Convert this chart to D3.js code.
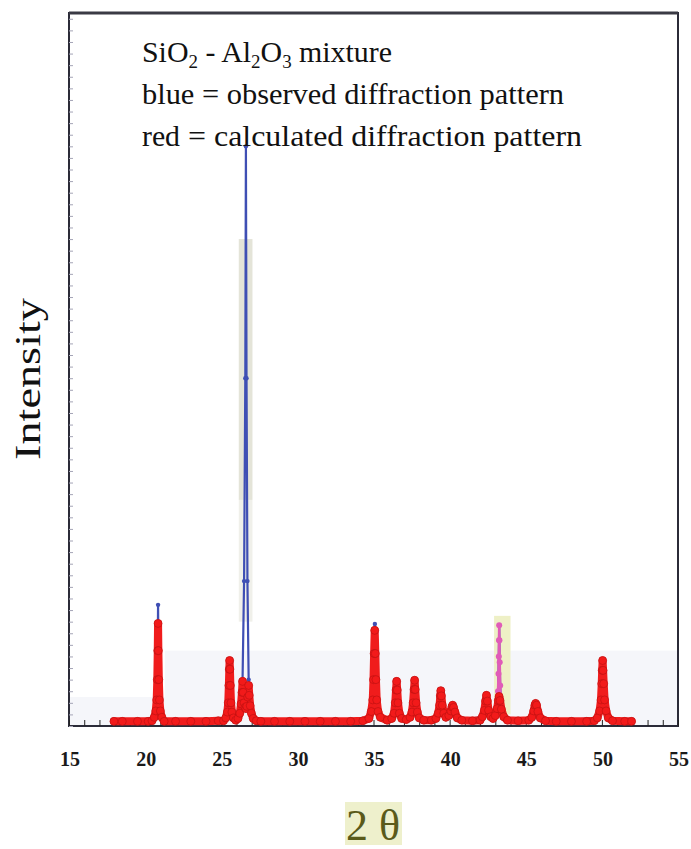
<!DOCTYPE html>
<html>
<head>
<meta charset="utf-8">
<script src="https://cdn.jsdelivr.net/npm/d3@7"></script>
<style>
  body { margin: 0; background: white; }
</style>
</head>
<body>
<div id="vis1"></div>
<script>
// tick labels of the 2-theta axis
let xTicks = [15, 20, 25, 30, 35, 40, 45, 50, 55];

// calculated pattern (red), [2theta, intensity]
let calcPattern = [
  [17.95, 0.8], [18.5, 0.8], [19.5, 0.8], [20.2, 0.8],
  [20.45, 0.9], [20.6, 1.5], [20.7, 2.6], [20.76, 4.5], [20.8, 8], [20.83, 13], [20.85, 17.7],
  [20.87, 13], [20.9, 8], [20.94, 4.5], [21.0, 2.6], [21.1, 1.5], [21.25, 0.8],
  [22, 0.8], [23, 0.8], [24, 0.8], [24.8, 0.9],
  [25.15, 0.9], [25.3, 1.4], [25.4, 2.4], [25.46, 4], [25.5, 7], [25.53, 9.8], [25.55, 11.3],
  [25.57, 9.8], [25.6, 7], [25.64, 4], [25.7, 2.4], [25.8, 1.4], [25.95, 1.0], [26.1, 1.3],
  [26.22, 2.2], [26.3, 3.8], [26.36, 5.8], [26.4, 7.7], [26.44, 5.8], [26.5, 4], [26.56, 3.2],
  [26.62, 3], [26.68, 3.4], [26.74, 5], [26.8, 7.0], [26.84, 5.3], [26.9, 3.5], [26.98, 2.2],
  [27.1, 1.3], [27.3, 0.9], [27.6, 0.8],
  [28.5, 0.8], [29.5, 0.8], [30.5, 0.8], [31.5, 0.8], [32.5, 0.8], [33.5, 0.8], [34.3, 0.9],
  [34.7, 1.3], [34.85, 2.5], [34.95, 4.5], [35.0, 8], [35.04, 12.5], [35.08, 16.5],
  [35.12, 12.5], [35.16, 8], [35.21, 4.5], [35.3, 2.5], [35.45, 1.5],
  [35.9, 1.0], [36.2, 1.3], [36.35, 2.2], [36.43, 4], [36.48, 6.2], [36.52, 7.7],
  [36.56, 6.2], [36.61, 4], [36.7, 2.2], [36.85, 1.3], [37.15, 1.1],
  [37.4, 1.5], [37.52, 2.4], [37.6, 4], [37.66, 6.3], [37.7, 7.9], [37.74, 6.3], [37.8, 4],
  [37.88, 2.4], [38.0, 1.4], [38.3, 1.0], [38.8, 1.0],
  [39.1, 1.3], [39.25, 2.2], [39.34, 3.6], [39.39, 5.2], [39.42, 6.1], [39.46, 5.2],
  [39.52, 3.6], [39.62, 2.2], [39.75, 1.5],
  [39.95, 1.8], [40.08, 2.6], [40.15, 3.3], [40.2, 3.6], [40.26, 3.2], [40.35, 2.4],
  [40.5, 1.4], [40.8, 1.0], [41.5, 0.9], [42.0, 1.0],
  [42.15, 1.6], [42.28, 2.7], [42.36, 4.3], [42.42, 5.3], [42.48, 4.3], [42.56, 2.7],
  [42.7, 1.6], [42.85, 1.3],
  [43.0, 1.8], [43.12, 3.0], [43.2, 4.4], [43.25, 5.1], [43.31, 4.4], [43.4, 2.9],
  [43.55, 1.6], [43.8, 1.0], [44.5, 0.9], [45.2, 1.0],
  [45.4, 1.5], [45.52, 2.6], [45.6, 3.6], [45.65, 3.9], [45.71, 3.6], [45.8, 2.5], [45.95, 1.4],
  [46.3, 0.9], [47, 0.8], [48, 0.8], [49, 0.8], [49.5, 0.9],
  [49.7, 1.4], [49.85, 2.6], [49.94, 4.5], [49.99, 7.3], [50.02, 9.6], [50.05, 11.3],
  [50.08, 9.6], [50.12, 7.3], [50.18, 4.5], [50.28, 2.6], [50.42, 1.4], [50.7, 0.9],
  [51.5, 0.8], [51.95, 0.8]
];

// observed pattern (blue), [2theta, intensity]
let obsPattern = [
  [18.0, 0.8], [20.4, 0.8], [20.6, 1.5], [20.72, 3], [20.78, 6], [20.82, 11], [20.85, 20.9],
  [20.88, 11], [20.92, 6], [20.98, 3], [21.1, 1.5], [21.3, 0.8],
  [25.15, 0.8], [25.35, 1.6], [25.47, 4], [25.52, 8], [25.55, 11], [25.58, 8], [25.63, 4],
  [25.75, 1.6], [26.0, 1.2],
  [26.3, 2.5], [26.4, 8], [26.5, 25], [26.58, 60], [26.62, 100], [26.66, 60], [26.72, 25],
  [26.8, 8], [26.92, 2.5], [27.3, 0.9],
  [34.4, 0.9], [34.8, 1.6], [34.95, 4], [35.02, 9], [35.06, 14], [35.09, 17.6], [35.12, 14],
  [35.16, 9], [35.22, 4], [35.4, 1.6],
  [36.2, 1.2], [36.45, 4], [36.52, 7.5], [36.6, 4], [36.85, 1.2],
  [37.45, 1.5], [37.64, 5], [37.7, 7.6], [37.77, 5], [38.0, 1.4],
  [39.2, 1.3], [39.38, 4.5], [39.42, 6], [39.48, 4.5], [39.75, 1.4],
  [40.05, 2.5], [40.2, 3.5], [40.4, 2], [40.8, 1.0],
  [42.2, 1.6], [42.38, 4.3], [42.42, 5.2], [42.47, 4.3], [42.7, 1.5],
  [43.0, 1.8], [43.12, 3.5], [43.18, 6], [43.21, 9], [43.23, 12], [43.245, 14.8], [43.255, 17.4],
  [43.27, 14.8], [43.29, 11], [43.32, 7], [43.38, 3.5], [43.5, 1.6],
  [43.9, 1.0], [45.4, 1.4], [45.6, 3.5], [45.65, 3.8], [45.72, 3.5], [45.95, 1.3], [46.5, 0.8],
  [49.75, 1.4], [49.95, 4.5], [50.01, 9], [50.05, 11], [50.09, 9], [50.15, 4.5],
  [50.4, 1.4], [51.95, 0.8]
];

// observed peak marked in pink (2theta window)
let pinkWindow = [43.0, 43.5];

let legendLines = [
  "blue = observed diffraction pattern",
  "calculated diffraction pattern"
];

let margin = { top: 13, left: 69, right: 13, bottom: 123 },
  W = 691, H = 849;

let svg = d3.select('#vis1')
  .append('svg')
  .attr('width', W)
  .attr('height', H)
  .style('background-color', 'white')
  .style('font-family', '"Liberation Serif", "Times New Roman", serif');

let x = d3.scaleLinear().domain([15, 55]).range([margin.left, W - margin.right]);
let y = d3.scaleLinear().domain([0, 123]).range([H - margin.bottom, margin.top]);

// faint scan tint near the base
svg.append('rect')
  .attr('x', x(21.3)).attr('y', y(13))
  .attr('width', x(55) - x(21.3)).attr('height', y(0) - y(13))
  .attr('fill', '#eef0f7').attr('opacity', 0.6);
svg.append('rect')
  .attr('x', x(15)).attr('y', y(5))
  .attr('width', x(21.3) - x(15)).attr('height', y(0) - y(5))
  .attr('fill', '#eef0f7').attr('opacity', 0.6);

// highlight strips behind the main peak and the pink peak
svg.append('rect')
  .attr('x', x(26.15)).attr('y', y(84))
  .attr('width', x(27.05) - x(26.15)).attr('height', y(39) - y(84))
  .attr('fill', '#e4e4d8');
svg.append('rect')
  .attr('x', x(26.15)).attr('y', y(39))
  .attr('width', x(27.05) - x(26.15)).attr('height', y(18) - y(39))
  .attr('fill', '#f0f0ea');
svg.append('rect')
  .attr('x', x(42.92)).attr('y', y(19))
  .attr('width', x(44.0) - x(42.92)).attr('height', y(2) - y(19))
  .attr('fill', '#eef0c6');

// frame
svg.append('rect')
  .attr('x', x(15)).attr('y', y(123))
  .attr('width', x(55) - x(15)).attr('height', y(0) - y(123))
  .attr('fill', 'none')
  .attr('stroke', '#2b2b38')
  .attr('stroke-width', 2);
svg.append('line')
  .attr('x1', x(15)).attr('x2', x(55))
  .attr('y1', y(123)).attr('y2', y(123))
  .attr('stroke', '#3a3a44').attr('stroke-width', 3);

// inward ticks
let bottomAxis = svg.append('g')
  .attr('transform', `translate(0, ${y(0)})`)
  .call(d3.axisTop(x).ticks(40).tickSize(6).tickFormat(''));
bottomAxis.select('.domain').remove();
bottomAxis.selectAll('line').attr('stroke', '#222');

let leftAxis = svg.append('g')
  .attr('transform', `translate(${x(15)}, 0)`)
  .call(d3.axisRight(y).ticks(60).tickSize(4).tickFormat(''));
leftAxis.select('.domain').remove();
leftAxis.selectAll('line').attr('stroke', '#a4a4b6');

// tick labels
svg.append('g')
  .selectAll('text')
  .data(xTicks)
  .join('text')
  .attr('x', d => x(d) + 1)
  .attr('y', 766)
  .attr('text-anchor', 'middle')
  .attr('font-size', 20)
  .attr('font-weight', 'bold')
  .attr('fill', '#1a1a1a')
  .text(d => d);

let line = d3.line().x(d => x(d[0])).y(d => y(d[1]));
let inPink = d => d[0] >= pinkWindow[0] && d[0] <= pinkWindow[1];

// observed (blue)
svg.append('path')
  .datum(obsPattern)
  .attr('d', line)
  .attr('fill', 'none')
  .attr('stroke', '#3f4fb4')
  .attr('stroke-width', 2.2);
svg.append('g')
  .selectAll('circle')
  .data(obsPattern.filter(d => !inPink(d)))
  .join('circle')
  .attr('cx', d => x(d[0]))
  .attr('cy', d => y(d[1]))
  .attr('r', 2.2)
  .attr('fill', '#3f4fb4');

// observed pink peak
svg.append('path')
  .datum(obsPattern.filter(inPink))
  .attr('d', line)
  .attr('fill', 'none')
  .attr('stroke', '#e05cb8')
  .attr('stroke-width', 2.5);
svg.append('g')
  .selectAll('circle')
  .data(obsPattern.filter(inPink))
  .join('circle')
  .attr('cx', d => x(d[0]))
  .attr('cy', d => y(d[1]))
  .attr('r', 3)
  .attr('fill', '#e05cb8');

// calculated (red)
svg.append('path')
  .datum(calcPattern)
  .attr('d', line)
  .attr('fill', 'none')
  .attr('stroke', '#f01c1c')
  .attr('stroke-width', 8)
  .attr('stroke-linejoin', 'round')
  .attr('stroke-linecap', 'round');
svg.append('g')
  .selectAll('circle')
  .data(calcPattern)
  .join('circle')
  .attr('cx', d => x(d[0]))
  .attr('cy', d => y(d[1]))
  .attr('r', 4)
  .attr('fill', '#f21a1a')
  .attr('stroke', '#b81010')
  .attr('stroke-width', 0.6);

// legend text
let t1 = svg.append('text')
  .attr('x', 142).attr('y', 62)
  .attr('font-size', 30)
  .attr('fill', '#111')
  .attr('textLength', 250)
  .attr('lengthAdjust', 'spacingAndGlyphs');
t1.append('tspan').text('SiO');
t1.append('tspan').attr('font-size', 19).attr('dy', 6).text('2');
t1.append('tspan').attr('dy', -6).text(' - Al');
t1.append('tspan').attr('font-size', 19).attr('dy', 6).text('2');
t1.append('tspan').attr('dy', -6).text('O');
t1.append('tspan').attr('font-size', 19).attr('dy', 6).text('3');
t1.append('tspan').attr('dy', -6).text(' mixture');

svg.append('text')
  .attr('x', 142).attr('y', 104)
  .attr('font-size', 30)
  .attr('fill', '#111')
  .attr('textLength', 422)
  .attr('lengthAdjust', 'spacingAndGlyphs')
  .text(legendLines[0]);

svg.append('text')
  .attr('x', 142).attr('y', 146)
  .attr('font-size', 30)
  .attr('fill', '#111')
  .attr('textLength', 38)
  .attr('lengthAdjust', 'spacingAndGlyphs')
  .text('red');
svg.append('text')
  .attr('x', 188).attr('y', 146)
  .attr('font-size', 30)
  .attr('fill', '#111')
  .attr('textLength', 394)
  .attr('lengthAdjust', 'spacingAndGlyphs')
  .text('= ' + legendLines[1]);

// axis titles
svg.append('text')
  .attr('transform', 'translate(40, 379) rotate(-90)')
  .attr('text-anchor', 'middle')
  .attr('font-size', 36)
  .attr('fill', '#111')
  .attr('textLength', 162)
  .attr('lengthAdjust', 'spacingAndGlyphs')
  .text('Intensity');

svg.append('rect')
  .attr('x', 345).attr('y', 802)
  .attr('width', 57).attr('height', 43)
  .attr('fill', '#eef0cc');
svg.append('text')
  .attr('x', 373).attr('y', 840)
  .attr('text-anchor', 'middle')
  .attr('font-size', 44)
  .attr('fill', '#5a5a1a')
  .text('2 θ');
</script>
</body>
</html>
